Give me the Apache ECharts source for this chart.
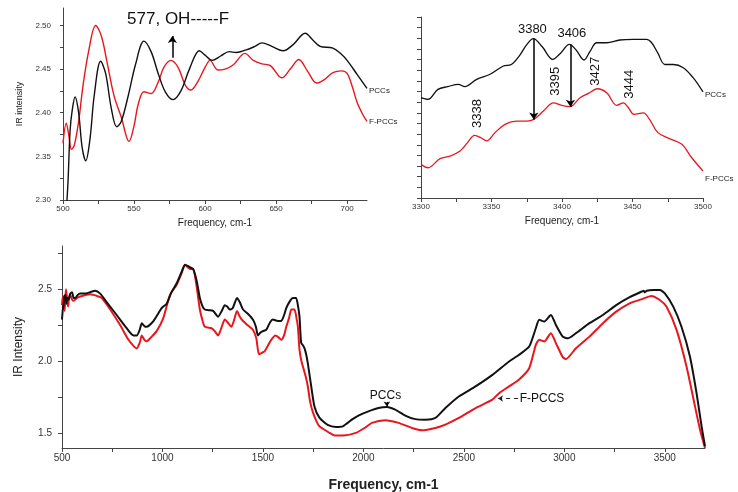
<!DOCTYPE html>
<html><head><meta charset="utf-8">
<script src="https://cdn.jsdelivr.net/npm/echarts@6/dist/echarts.min.js"></script>
<style>html,body{margin:0;padding:0;background:#fff}#c{width:738px;height:492px}</style>
</head><body><div id="c"></div>
<script>
// ---- Top-left panel (500-714 cm-1) ----
const tlPccsX = [500.5,502,503.5,505,506.5,508.5,511,513.5,516,519,522,526.5,530,534,537.8,541,546,551,557,562,567,572,577.5,583,589,596,600,605,611,617,622,629,635,640,647,655,662,670.5,676,681,690,696,700,707,714];
const tlPccsY = [2.25,2.28,2.32,2.38,2.403,2.418,2.40,2.36,2.345,2.37,2.42,2.459,2.445,2.405,2.384,2.39,2.42,2.455,2.482,2.47,2.445,2.424,2.415,2.425,2.45,2.471,2.466,2.46,2.465,2.47,2.469,2.472,2.476,2.48,2.476,2.471,2.478,2.491,2.483,2.476,2.474,2.467,2.46,2.444,2.428];
const tlFpccsX = [500,502.3,504,506,508,511,514,518,523,527,531,536,541,546.5,550,553,557,562,567,571,576,581,586,590,595,600,603.5,609,614,620,628,634,640,646,654,660,666,672,678.6,684,690,696,700,704,707,711,714];
const tlFpccsY = [2.365,2.388,2.375,2.358,2.363,2.39,2.43,2.47,2.50,2.488,2.458,2.419,2.395,2.367,2.385,2.41,2.424,2.422,2.435,2.452,2.46,2.452,2.432,2.426,2.436,2.452,2.46,2.449,2.45,2.455,2.468,2.46,2.456,2.454,2.44,2.45,2.461,2.448,2.434,2.438,2.446,2.448,2.445,2.428,2.412,2.398,2.39];
const tlXTicks = [500,525,550,575,600,625,650,675,700];
const tlXLabels = [500,550,600,650,700];
const tlYTicks = [2.30,2.325,2.35,2.375,2.40,2.425,2.45,2.475,2.50];
const tlYLabels = [2.30,2.35,2.40,2.45,2.50];

// ---- Top-right panel (3300-3500 cm-1), arbitrary offset units ----
const trPccsX = [3300,3305,3312,3319,3326.5,3331,3339.5,3349,3358.4,3364,3370,3375,3379.7,3386,3393.4,3399,3405.2,3410,3415.6,3420,3424.6,3431.7,3441,3450.6,3460,3463.6,3468,3473,3479,3486,3493,3500];
const trPccsY = [4.21,4.13,4.6,4.73,4.84,4.73,5.07,5.31,5.70,5.77,6.2,6.7,6.98,6.6,6.01,6.3,6.71,6.45,5.98,6.4,6.79,6.79,6.92,6.95,6.95,6.79,6.3,5.77,5.77,5.62,5.15,4.48];
const trFpccsX = [3300,3305,3313.5,3320.6,3327.7,3333,3338,3342,3346.6,3352.5,3359.6,3367.8,3375,3380,3386.8,3393.9,3399.8,3405.7,3412.8,3418.7,3425,3431.7,3438.8,3443.5,3447,3451,3457.7,3462,3468,3476.6,3485,3492,3500];
const trFpccsY = [1.08,0.92,1.35,1.47,1.71,2.1,2.44,2.35,2.18,2.57,2.96,3.11,3.11,3.19,3.58,3.97,3.85,3.79,4.21,4.41,4.63,4.44,3.85,3.97,3.75,3.43,3.5,3.2,2.57,2.28,2.02,1.39,0.77];
const trXTicks = [3300,3325,3350,3375,3400,3425,3450,3475,3500];
const trXLabels = [3300,3350,3400,3450,3500];

// ---- Bottom panel (500-3700 cm-1) ----
const bPccsX = [500,504,508,512,517,522,527,533,541,550,558,566,578,591,615,640,665,690,723,773,822,855,872,887,897,910,921,955,996,1021,1045,1070,1095,1112,1128,1140,1153,1170,1186,1200,1211,1230,1252,1277,1295,1310,1322,1335,1350,1371,1385,1401,1425,1450,1465,1475,1488,1500,1517,1535,1550,1574,1591,1605,1616,1635,1649,1665,1675,1682,1690,1700,1707,1715,1723,1740,1756,1781,1822,1864,1897,1946,1975,2025,2075,2117,2158,2208,2258,2308,2358,2408,2475,2558,2642,2725,2775,2825,2858,2875,2900,2933,2958,2992,3017,3058,3125,3192,3258,3325,3383,3395,3400,3410,3442,3475,3500,3542,3583,3625,3658,3683,3700];
const bPccsY = [2.29,2.36,2.39,2.45,2.46,2.40,2.44,2.43,2.47,2.48,2.44,2.44,2.46,2.47,2.47,2.48,2.49,2.47,2.41,2.32,2.23,2.18,2.18,2.22,2.265,2.245,2.24,2.28,2.37,2.40,2.48,2.54,2.62,2.67,2.66,2.65,2.64,2.56,2.44,2.38,2.36,2.355,2.35,2.31,2.35,2.39,2.38,2.36,2.37,2.44,2.41,2.36,2.33,2.29,2.24,2.18,2.20,2.21,2.22,2.27,2.29,2.28,2.28,2.32,2.37,2.42,2.44,2.44,2.38,2.31,2.13,2.11,2.09,2.05,1.99,1.83,1.69,1.61,1.56,1.546,1.55,1.60,1.625,1.654,1.677,1.684,1.666,1.625,1.60,1.596,1.608,1.677,1.757,1.827,1.907,2.0,2.046,2.103,2.23,2.288,2.276,2.322,2.253,2.172,2.16,2.196,2.265,2.322,2.39,2.445,2.483,2.49,2.478,2.49,2.495,2.495,2.472,2.38,2.24,2.034,1.78,1.55,1.412];
const bFpccsX = [500,504,508,513,517,520,525,530,535,541,550,558,575,591,640,674,698,740,790,831,872,887,897,910,921,945,971,1004,1037,1070,1095,1112,1128,1140,1153,1170,1186,1200,1211,1244,1260,1277,1295,1310,1325,1343,1355,1371,1385,1401,1425,1450,1467,1480,1495,1508,1525,1541,1562,1575,1591,1605,1616,1630,1641,1657,1667,1674,1682,1692,1702,1712,1723,1735,1748,1765,1781,1831,1858,1897,1963,2013,2042,2108,2175,2242,2292,2358,2408,2475,2558,2642,2675,2725,2775,2825,2858,2875,2900,2933,2958,2992,3008,3058,3125,3192,3258,3325,3383,3433,3475,3508,3558,3608,3650,3675,3695,3700];
const bFpccsY = [2.39,2.45,2.45,2.35,2.44,2.50,2.44,2.38,2.44,2.46,2.43,2.42,2.44,2.45,2.465,2.454,2.44,2.36,2.25,2.15,2.09,2.13,2.18,2.15,2.14,2.17,2.21,2.30,2.46,2.53,2.61,2.67,2.65,2.64,2.64,2.52,2.36,2.28,2.24,2.23,2.21,2.18,2.24,2.29,2.27,2.24,2.28,2.35,2.31,2.28,2.25,2.22,2.16,2.05,2.06,2.07,2.11,2.15,2.18,2.17,2.15,2.18,2.24,2.30,2.36,2.36,2.30,2.24,2.08,2.00,1.95,1.90,1.83,1.72,1.65,1.59,1.55,1.505,1.486,1.486,1.505,1.545,1.574,1.592,1.574,1.539,1.523,1.539,1.562,1.608,1.677,1.735,1.78,1.827,1.875,1.953,2.115,2.15,2.138,2.196,2.127,2.03,2.016,2.092,2.172,2.265,2.345,2.403,2.43,2.454,2.426,2.38,2.22,1.965,1.69,1.528,1.424,1.40];
const bXTicks = [500,750,1000,1250,1500,1750,2000,2250,2500,2750,3000,3250,3500];
const bXLabels = [500,1000,1500,2000,2500,3000,3500];
const bYTicks = [1.5,1.75,2.0,2.25,2.5,2.75];
const bYLabels = [1.5,2.0,2.5];

const zip = (xs, ys) => xs.map((x, i) => [x, ys[i]]);
const BLACK = '#111', RED = '#e8161d', AX = '#444';
const FONT = 'Liberation Sans, Arial, sans-serif';

function xAxisCfg(gi, min, max, ticks, labels, fs, name, nameFs, nameGap, bold) {
  return {
    type: 'value', gridIndex: gi, min: min, max: max,
    name: name, nameLocation: 'middle', nameGap: nameGap,
    nameTextStyle: { fontSize: nameFs, color: '#222', fontFamily: FONT, fontWeight: bold ? 'bold' : 'normal' },
    axisLine: { onZero: false, lineStyle: { color: AX, width: 1 } },
    axisTick: { show: true, length: 4, lineStyle: { color: AX }, customValues: ticks },
    axisLabel: { fontSize: fs, color: '#333', margin: 5, fontFamily: FONT, customValues: labels,
      formatter: v => String(Math.round(v)) },
    splitLine: { show: false }
  };
}

const chart = echarts.init(document.getElementById('c'), null, { renderer: 'canvas' });
chart.setOption({
  animation: false,
  backgroundColor: '#fff',
  textStyle: { fontFamily: FONT },
  grid: [
    { left: 63, top: 8, width: 304, height: 192, containLabel: false, outerBoundsMode: 'none' },
    { left: 421, top: 17, width: 282, height: 181, containLabel: false, outerBoundsMode: 'none' },
    { left: 62, top: 246, width: 643, height: 202, containLabel: false, outerBoundsMode: 'none' }
  ],
  xAxis: [
    xAxisCfg(0, 500, 714, tlXTicks, tlXLabels, 8, 'Frequency, cm-1', 10, 18, false),
    xAxisCfg(1, 3300, 3500, trXTicks, trXLabels, 8, 'Frequency, cm-1', 10, 18, false),
    xAxisCfg(2, 500, 3700, bXTicks, bXLabels, 10, 'Frequency, cm-1', 14, 30, true)
  ],
  yAxis: [
    {
      type: 'value', gridIndex: 0, min: 2.30, max: 2.52,
      name: 'IR intensity', nameLocation: 'middle', nameGap: 39,
      nameTextStyle: { fontSize: 9, color: '#222', fontFamily: FONT },
      axisLine: { show: true, onZero: false, lineStyle: { color: AX } },
      axisTick: { show: true, length: 3, lineStyle: { color: AX }, customValues: tlYTicks },
      axisLabel: { fontSize: 8, color: '#333', margin: 12, fontFamily: FONT, customValues: tlYLabels,
        formatter: v => Number(v).toFixed(2) },
      splitLine: { show: false }
    },
    {
      type: 'value', gridIndex: 1, min: -0.5, max: 8, interval: 0.5,
      axisLine: { show: true, onZero: false, lineStyle: { color: AX } },
      axisTick: { show: true, length: 4, lineStyle: { color: AX } },
      axisLabel: { show: false },
      splitLine: { show: false }
    },
    {
      type: 'value', gridIndex: 2, min: 1.4, max: 2.8,
      name: 'IR Intensity', nameLocation: 'middle', nameGap: 37,
      nameTextStyle: { fontSize: 12, color: '#222', fontFamily: FONT },
      axisLine: { show: true, onZero: false, lineStyle: { color: AX } },
      axisTick: { show: true, length: 4, lineStyle: { color: AX }, customValues: bYTicks },
      axisLabel: { fontSize: 10, color: '#333', margin: 10, fontFamily: FONT, customValues: bYLabels,
        formatter: v => Number(v).toFixed(1) },
      splitLine: { show: false }
    }
  ],
  series: [
    {
      name: 'PCCs', type: 'line', xAxisIndex: 0, yAxisIndex: 0, data: zip(tlPccsX, tlPccsY),
      showSymbol: false, smooth: 0.35, clip: true, z: 3,
      lineStyle: { color: BLACK, width: 1.4 }, itemStyle: { color: BLACK },
      endLabel: { show: true, formatter: 'PCCs', fontSize: 8, color: '#222', distance: 2, offset: [0, 3] },
      markLine: {
        silent: true, symbol: ['none', 'arrow'], symbolSize: 7,
        label: { show: false },
        lineStyle: { color: '#000', width: 1.5, type: 'solid' },
        data: [[{ coord: [577, 2.463] }, { coord: [577, 2.488] }]]
      },
      markPoint: {
        silent: true,
        data: [{ coord: [581, 2.507], symbol: 'rect', symbolSize: 1, itemStyle: { color: 'rgba(0,0,0,0)' },
          label: { show: true, position: 'inside', formatter: '577, OH-----F', fontSize: 17, color: '#111' } }]
      }
    },
    {
      name: 'F-PCCs', type: 'line', xAxisIndex: 0, yAxisIndex: 0, data: zip(tlFpccsX, tlFpccsY),
      showSymbol: false, smooth: 0.35, clip: true, z: 2,
      lineStyle: { color: RED, width: 1.4 }, itemStyle: { color: RED },
      endLabel: { show: true, formatter: 'F-PCCs', fontSize: 8, color: '#222', distance: 2, offset: [0, 0] }
    },
    {
      name: 'PCCs-r', type: 'line', xAxisIndex: 1, yAxisIndex: 1, data: zip(trPccsX, trPccsY),
      showSymbol: false, smooth: 0.35, clip: true, z: 3,
      lineStyle: { color: BLACK, width: 1.3 }, itemStyle: { color: BLACK },
      endLabel: { show: true, formatter: 'PCCs', fontSize: 8, color: '#222', distance: 2, offset: [0, 3] },
      markLine: {
        silent: true, symbol: ['none', 'arrow'], symbolSize: 7,
        label: { show: false },
        lineStyle: { color: '#000', width: 1.5, type: 'solid' },
        data: [
          [{ coord: [3380, 6.98] }, { coord: [3380, 3.19] }],
          [{ coord: [3406, 6.71] }, { coord: [3406, 3.79] }]
        ]
      },
      markPoint: {
        silent: true, symbol: 'rect', symbolSize: 1, itemStyle: { color: 'rgba(0,0,0,0)' },
        label: { show: true, position: 'inside', fontSize: 13, color: '#111' },
        data: [
          { coord: [3379, 7.42], label: { formatter: '3380' } },
          { coord: [3407, 7.23], label: { formatter: '3406' } },
          { coord: [3339.7, 3.47], label: { formatter: '3338', rotate: 90 } },
          { coord: [3395, 4.98], label: { formatter: '3395', rotate: 90 } },
          { coord: [3423.4, 5.45], label: { formatter: '3427', rotate: 90 } },
          { coord: [3448, 4.84], label: { formatter: '3444', rotate: 90 } }
        ]
      }
    },
    {
      name: 'F-PCCs-r', type: 'line', xAxisIndex: 1, yAxisIndex: 1, data: zip(trFpccsX, trFpccsY),
      showSymbol: false, smooth: 0.35, clip: true, z: 2,
      lineStyle: { color: RED, width: 1.3 }, itemStyle: { color: RED },
      endLabel: { show: true, formatter: 'F-PCCs', fontSize: 8, color: '#222', distance: 2, offset: [0, 8] }
    },
    {
      name: 'PCCs-b', type: 'line', xAxisIndex: 2, yAxisIndex: 2, data: zip(bPccsX, bPccsY),
      showSymbol: false, smooth: 0.2, clip: true, z: 3,
      lineStyle: { color: BLACK, width: 2 }, itemStyle: { color: BLACK },
      markLine: {
        silent: true, symbol: ['none', 'arrow'], symbolSize: 5,
        label: { show: false },
        lineStyle: { color: '#000', width: 1, type: 'solid' },
        data: [[{ coord: [2117, 1.72] }, { coord: [2117, 1.688] }]]
      },
      markPoint: {
        silent: true, symbol: 'rect', symbolSize: 1, itemStyle: { color: 'rgba(0,0,0,0)' },
        label: { show: true, position: 'inside', fontSize: 12, color: '#111' },
        data: [{ coord: [2110, 1.763], label: { formatter: 'PCCs' } }]
      }
    },
    {
      name: 'F-PCCS-b', type: 'line', xAxisIndex: 2, yAxisIndex: 2, data: zip(bFpccsX, bFpccsY),
      showSymbol: false, smooth: 0.2, clip: true, z: 2,
      lineStyle: { color: RED, width: 2 }, itemStyle: { color: RED },
      markLine: {
        silent: true, symbol: ['none', 'arrow'], symbolSize: 5,
        label: { show: false },
        lineStyle: { color: '#222', width: 1, type: [4, 4] },
        data: [[{ coord: [2770, 1.743] }, { coord: [2670, 1.743] }]]
      },
      markPoint: {
        silent: true, symbol: 'rect', symbolSize: 1, itemStyle: { color: 'rgba(0,0,0,0)' },
        label: { show: true, position: 'right', distance: 0, fontSize: 12, color: '#111' },
        data: [{ coord: [2775, 1.743], label: { formatter: 'F-PCCS' } }]
      }
    }
  ]
});
</script>
</body></html>
